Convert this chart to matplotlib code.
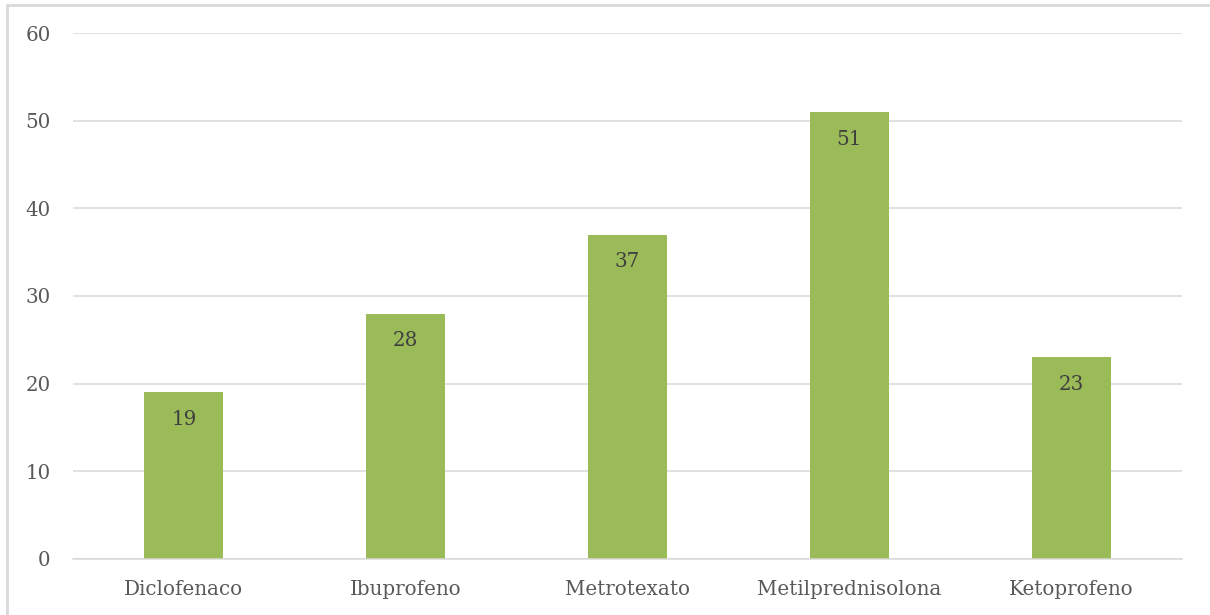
import matplotlib.pyplot as plt
from matplotlib.patches import Rectangle

# data
farmacos = ["Diclofenaco", "Ibuprofeno", "Metrotexato", "Metilprednisolona", "Ketoprofeno"]
valores = [19, 28, 37, 51, 23]
yticks = [0, 10, 20, 30, 40, 50, 60]

plt.rcParams['font.family'] = ['DejaVu Serif']

fig = plt.figure(figsize=[12.1, 6.15], dpi=100)
ax = fig.add_axes([0.0603, 0.0911, 0.9166, 0.8552])

# outer chart border (cut off at right and bottom like the original)
fig.patches.append(Rectangle((7 / 1210, -0.01), 1.05, 1 - 5 / 615 + 0.01,
                             transform=fig.transFigure, fill=False,
                             edgecolor='#d9d9d9', linewidth=2))

x = range(len(farmacos))
bars = ax.bar(x, valores, width=0.356, color='#9bbb59', zorder=2)

for b, v in zip(bars, valores):
    ax.text(b.get_x() + b.get_width() / 2, v - 3.1, str(v),
            ha='center', va='center', fontsize=14.3, color='#404040', zorder=3)

ax.set_xlim(-0.5, len(farmacos) - 0.5)
ax.set_ylim(0, 60)
ax.set_yticks(yticks)
ax.set_xticks(list(x))
ax.set_xticklabels(farmacos)
ax.tick_params(axis='both', length=0, labelsize=14.3, labelcolor='#595959')
ax.tick_params(axis='y', pad=16)
ax.tick_params(axis='x', pad=15)
ax.grid(axis='y', color='#d9d9d9', linewidth=1.1, zorder=0)

for s in ['top', 'right', 'left']:
    ax.spines[s].set_visible(False)
ax.spines['bottom'].set_color('#d9d9d9')
ax.spines['bottom'].set_linewidth(1.1)

plt.savefig("out.png")
